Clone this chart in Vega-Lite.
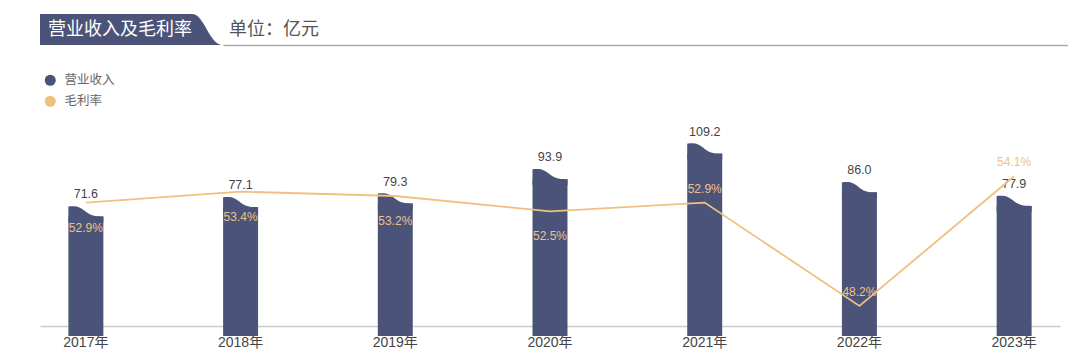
{
  "$schema": "https://vega.github.io/schema/vega-lite/v6.json",
  "padding": {"left": 40, "top": 14, "right": 0, "bottom": 0},
  "background": "white",
  "config": {
    "view": {"stroke": null},
    "font": "Liberation Sans, Noto Sans CJK SC",
    "concat": {"spacing": 0}
  },
  "resolve": {"scale": {"color": "independent"}, "legend": {"color": "independent"}},
  "vconcat": [
    {
      "hconcat": [
        {
          "width": 152, "height": 31,
          "view": {"fill": "#4b5478", "stroke": null},
          "data": {"values": [{"t": "营业收入及毛利率"}]},
          "mark": {"type": "text", "color": "white", "fontSize": 18, "font": "Noto Sans CJK SC", "align": "center", "baseline": "middle", "dx": 4},
          "encoding": {"text": {"field": "t"}}
        },
        {
          "width": 31, "height": 31,
          "data": {"values": [{"t": "tab"}]},
          "mark": {"type": "point", "filled": true, "color": "#4b5478", "opacity": 1, "size": 961, "shape": "M-1,-1 C-0.2,-1 0.1,1 1,1 L-1,1 Z"},
          "encoding": {}
        },
        {
          "width": 845, "height": 31,
          "data": {"values": [{"t": "单位：亿元", "p": 0}]},
          "mark": {"type": "text", "color": "#555", "fontSize": 18, "font": "Noto Sans CJK SC", "align": "left", "baseline": "middle", "dx": 6},
          "encoding": {
            "text": {"field": "t"},
            "x": {"field": "p", "type": "quantitative", "scale": {"domain": [0, 1]}, "axis": {"domainColor": "#aaa", "domainWidth": 1.5, "ticks": false, "labels": false, "grid": false, "title": null}}
          }
        }
      ]
    },
    {
      "width": 1020, "height": 256,
      "data": {"values": [
        {"year": "2017年", "rev": 71.6, "gm": 0.529},
        {"year": "2018年", "rev": 77.1, "gm": 0.534},
        {"year": "2019年", "rev": 79.3, "gm": 0.532},
        {"year": "2020年", "rev": 93.9, "gm": 0.525},
        {"year": "2021年", "rev": 109.2, "gm": 0.529},
        {"year": "2022年", "rev": 86.0, "gm": 0.482},
        {"year": "2023年", "rev": 77.9, "gm": 0.541}
      ]},
      "encoding": {
        "x": {"field": "year", "type": "nominal", "sort": null,
          "scale": {"paddingInner": 0.774, "paddingOuter": 0.1835},
          "axis": {"title": null, "labelAngle": 0, "ticks": false, "domainColor": "#ccc", "domainWidth": 1.5, "labelFontSize": 14, "labelColor": "#444", "labelPadding": 9}}
      },
      "layer": [
        {
          "encoding": {"y": {"field": "rev", "type": "quantitative", "scale": {"domain": [0, 153.3], "nice": false}, "axis": null}},
          "layer": [
            {
              "mark": {"type": "bar", "yOffset": 10},
              "encoding": {
                "color": {"datum": "营业收入", "type": "nominal",
                  "scale": {"domain": ["营业收入", "毛利率"], "range": ["#4b5478", "#f1bf7f"]},
                  "legend": {"orient": "top-left", "offset": 4, "title": null, "symbolType": "circle", "symbolSize": 121,
                    "labelFontSize": 12.5, "labelColor": "#666", "labelOffset": 8, "rowPadding": 8, "labelFont": "Noto Sans CJK SC",
                    "encode": {"symbols": {"update": {"fill": {"scale": "color", "field": "value"}, "stroke": {"value": "transparent"}, "strokeWidth": {"value": 0}, "opacity": {"value": 1}}}}}
                }
              }
            },
            {
              "mark": {"type": "point", "filled": true, "opacity": 1, "size": 1225, "shape": "M-1,0 C-0.5,-0.06 -0.3,0.05 0,0.3 C0.35,0.57 0.6,0.56 1,0.57 L1,0.9 L-1,0.9 Z"},
              "encoding": {"color": {"datum": "营业收入", "type": "nominal"}}
            },
            {
              "mark": {"type": "text", "dy": -12, "fontSize": 12.5, "color": "#444", "baseline": "middle"},
              "encoding": {"text": {"field": "rev", "type": "quantitative", "format": ".1f"}}
            }
          ]
        },
        {
          "encoding": {"y": {"field": "gm", "type": "quantitative", "scale": {"domain": [0.47291, 0.58927], "nice": false, "zero": false}, "axis": null}},
          "layer": [
            {
              "mark": {"type": "line", "strokeWidth": 1.8},
              "encoding": {"color": {"datum": "毛利率", "type": "nominal"}}
            },
            {
              "transform": [{"filter": {"field": "year", "oneOf": ["2017年", "2018年", "2019年", "2020年"]}}],
              "mark": {"type": "text", "dy": 25, "fontSize": 12, "color": "#f0c08a", "baseline": "middle"},
              "encoding": {"text": {"field": "gm", "type": "quantitative", "format": ".1%"}}
            },
            {
              "transform": [{"filter": {"field": "year", "oneOf": ["2021年", "2022年", "2023年"]}}],
              "mark": {"type": "text", "dy": -14, "fontSize": 12, "color": "#f0c08a", "baseline": "middle"},
              "encoding": {"text": {"field": "gm", "type": "quantitative", "format": ".1%"}}
            }
          ]
        }
      ],
      "resolve": {"scale": {"y": "independent"}}
    }
  ],
  "spacing": 25
}
